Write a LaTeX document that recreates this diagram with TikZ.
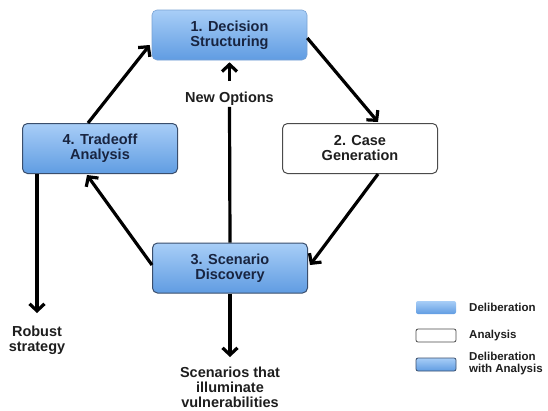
\documentclass[tikz,border=0pt]{standalone}
\usepackage{fontspec}
\setmainfont{Liberation Sans}
\usetikzlibrary{arrows.meta,calc}
\definecolor{blueTop}{RGB}{168,206,247}
\definecolor{blueBot}{RGB}{96,156,226}
\definecolor{lightBorder}{RGB}{120,162,212}
\definecolor{darkBorder}{RGB}{58,78,108}
\definecolor{boxText}{RGB}{24,36,64}
\definecolor{plainText}{RGB}{30,30,30}
\tikzset{
  base/.style={rounded corners=5pt, minimum width=155pt, minimum height=50pt, align=center,
    font=\fontsize{14.5}{15}\selectfont\bfseries, inner sep=0pt},
  delib/.style={base, top color=blueTop, bottom color=blueBot, draw=lightBorder, line width=0.6pt, text=boxText},
  delana/.style={base, top color=blueTop, bottom color=blueBot, draw=darkBorder, line width=1pt, text=boxText},
  analysis/.style={base, fill=white, draw=plainText!80, line width=1pt, text=plainText},
  lbl/.style={align=center, font=\fontsize{14.5}{15}\selectfont\bfseries, text=plainText, inner sep=1pt},
  legtxt/.style={align=left, anchor=west, font=\fontsize{11.5}{12}\selectfont\bfseries, text=plainText, inner sep=0pt},
  arr/.style={line width=3.2pt, -{Straight Barb[length=7pt,width=15pt]}},
  conn/.style={line width=3.2pt},
  swatch/.style={rounded corners=2pt, minimum width=40pt, minimum height=13pt, inner sep=0pt}
}
\begin{document}
\begin{tikzpicture}[x=1pt,y=-1pt]
\useasboundingbox (0,0) rectangle (548,410);
\fill[white] (0,0) rectangle (548,410);

\node[delib] (b1) at (229.5,35) {1. Decision\\Structuring};
\node[analysis] (b2) at (360,148.5) {2. Case\\Generation};
\node[delana] (b4) at (100,148.5) {4. Tradeoff\\Analysis};
\node[delana] (b3) at (230,268) {3. Scenario\\Discovery};

\node[lbl] (newopt) at (229.5,99) {New Options};
\node[lbl, anchor=north] (robust) at (37,325) {Robust\\strategy};
\node[lbl, anchor=north] (scen) at (230,366) {Scenarios that\\illuminate\\vulnerabilities};

% cycle
\draw[arr] ([xshift=-12pt]b4.north) -- ([xshift=-2pt,yshift=-10pt]b1.west);
\draw[arr] ([yshift=-3pt]b1.east) -- ([xshift=18pt,yshift=1pt]b2.north);
\draw[arr] ([xshift=18pt]b2.south) -- ([xshift=2pt,yshift=3pt]b3.east);
\draw[arr] ([yshift=3pt]b3.west) -- ([xshift=-13pt,yshift=-1pt]b4.south);

% new options
\draw[conn] (b3.north) -- (newopt.south);
\draw[arr] ([yshift=10pt]newopt.north) -- ([yshift=-2pt]b1.south);

% outputs
\draw[arr] ([xshift=15pt]b4.south west) -- ([yshift=12pt]robust.north);
\draw[arr] (b3.south) -- ([yshift=9pt]scen.north);

% legend
\node[swatch, top color=blueTop, bottom color=blueBot] (s1) at (436,307.5) {};
\node[legtxt] (t1) at (469,307.5) {Deliberation};
\node[swatch, fill=white, draw=plainText!80, line width=0.8pt] (s2) at (436,335.5) {};
\node[legtxt] (t2) at (469,335.5) {Analysis};
\node[swatch, top color=blueTop, bottom color=blueBot, draw=darkBorder, line width=0.8pt] (s3) at (436,364.5) {};
\node[legtxt] (t3) at (469,363.5) {Deliberation\\with Analysis};
\end{tikzpicture}
\end{document}
